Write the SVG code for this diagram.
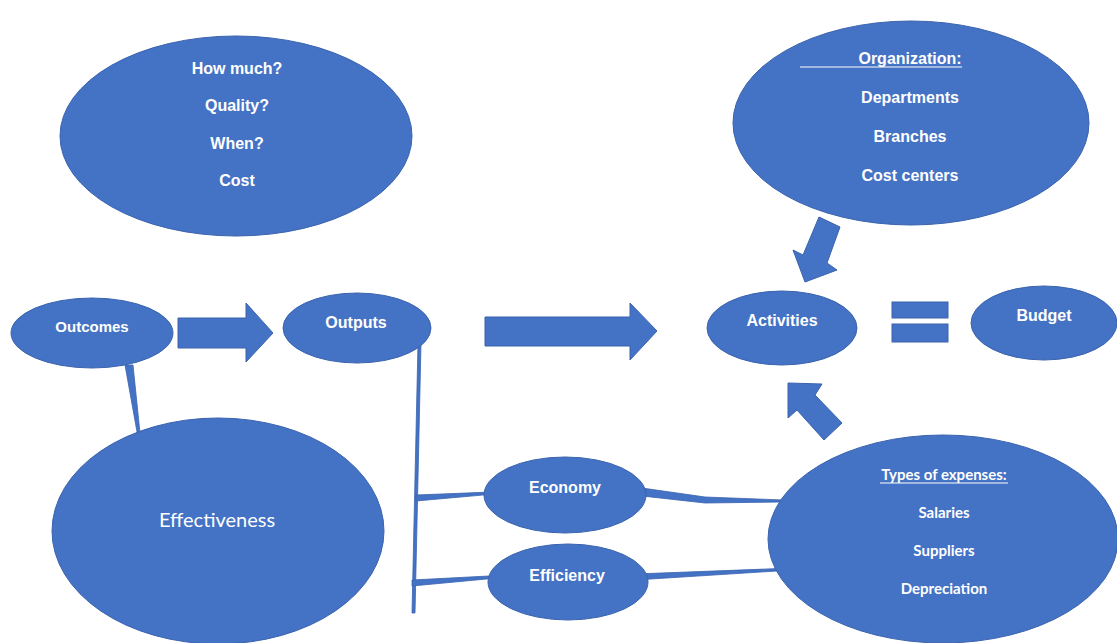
<svg xmlns="http://www.w3.org/2000/svg" width="1117" height="643" viewBox="0 0 1117 643">
  <style>
    .shape { fill: #4472C4; stroke: #3A63AE; stroke-width: 1; }
    .link { fill: #4472C4; stroke: #3A63AE; stroke-width: 0.8; }
    .lbl { fill: #ffffff; font-family: "Liberation Sans", Arial, sans-serif; font-weight: bold; font-size: 16px; text-anchor: middle; }
    .cal { fill: #ffffff; font-family: Lato, "Open Sans", sans-serif; font-weight: bold; font-size: 15px; text-anchor: middle; }
    .ul { stroke: #ffffff; stroke-width: 1.2; }
  </style>
  <rect width="1117" height="643" fill="#ffffff"/>

  <!-- connectors: tapered lines and block arrows -->
  <g id="connectors">
    <polygon class="link" points="125,365 133,365 141,443 139,443"/>
    <polygon class="link" points="418,343 421,343 415,613 412,613"/>
    <polygon class="link" points="416,495 517,491 517,492 416,501"/>
    <polygon class="link" points="412,580 508,575 508,577 412,586"/>
    <polygon class="link" points="642,488 705,497 783,500 783,502 705,503 642,496"/>
    <polygon class="link" points="635,574 793,568 793,570 635,580"/>
    <polygon class="shape" points="178,318 246,318 246,303 273,333 246,362 246,348 178,348"/>
    <polygon class="shape" points="485,317 630,317 630,303 657,331 630,360 630,346 485,346"/>
    <polygon class="shape" points="819,217 840,227 827,263 837,270 805,282 793,250 803,255"/>
    <polygon class="shape" points="788,383 822,384 815,395 842,423 824,440 797,410 788,418"/>
    <rect class="shape" x="892" y="302" width="56" height="16"/>
    <rect class="shape" x="892" y="324" width="56" height="18"/>
  </g>

  <g id="questions">
    <ellipse class="shape" cx="236" cy="136" rx="176" ry="100"/>
    <text class="lbl" x="237" y="74">How much?</text>
    <text class="lbl" x="237" y="111">Quality?</text>
    <text class="lbl" x="237" y="149">When?</text>
    <text class="lbl" x="237" y="186">Cost</text>
  </g>

  <g id="organization">
    <ellipse class="shape" cx="911" cy="123" rx="178" ry="102"/>
    <text class="lbl" x="910" y="64">Organization:</text>
    <line class="ul" x1="800" y1="67" x2="962" y2="67"/>
    <text class="lbl" x="910" y="103">Departments</text>
    <text class="lbl" x="910" y="142">Branches</text>
    <text class="lbl" x="910" y="181">Cost centers</text>
  </g>

  <g id="outcomes">
    <ellipse class="shape" cx="92" cy="333" rx="81" ry="35"/>
    <text class="lbl" x="92" y="332" style="font-size:15px">Outcomes</text>
  </g>

  <g id="outputs">
    <ellipse class="shape" cx="357" cy="328" rx="74" ry="35"/>
    <text class="lbl" x="356" y="328">Outputs</text>
  </g>

  <g id="activities">
    <ellipse class="shape" cx="782" cy="328" rx="75" ry="37"/>
    <text class="lbl" x="782" y="326">Activities</text>
  </g>

  <g id="budget">
    <ellipse class="shape" cx="1044" cy="323" rx="73" ry="37"/>
    <text class="lbl" x="1044" y="321">Budget</text>
  </g>

  <g id="effectiveness">
    <ellipse class="shape" cx="218" cy="531" rx="166" ry="113"/>
    <text x="217" y="527" fill="#ffffff" font-family="Lato, 'Open Sans', sans-serif" font-size="20" text-anchor="middle">Effectiveness</text>
  </g>

  <g id="economy">
    <ellipse class="shape" cx="565" cy="495" rx="81" ry="38"/>
    <text class="lbl" x="565" y="493">Economy</text>
  </g>

  <g id="efficiency">
    <ellipse class="shape" cx="568" cy="582" rx="80" ry="38"/>
    <text class="lbl" x="567" y="581">Efficiency</text>
  </g>

  <g id="expenses">
    <ellipse class="shape" cx="943" cy="539" rx="175" ry="104"/>
    <text class="cal" x="944" y="480">Types of expenses:</text>
    <line class="ul" x1="880" y1="483" x2="1008" y2="483"/>
    <text class="cal" x="944" y="518">Salaries</text>
    <text class="cal" x="944" y="556">Suppliers</text>
    <text class="cal" x="944" y="594">Depreciation</text>
  </g>
</svg>
